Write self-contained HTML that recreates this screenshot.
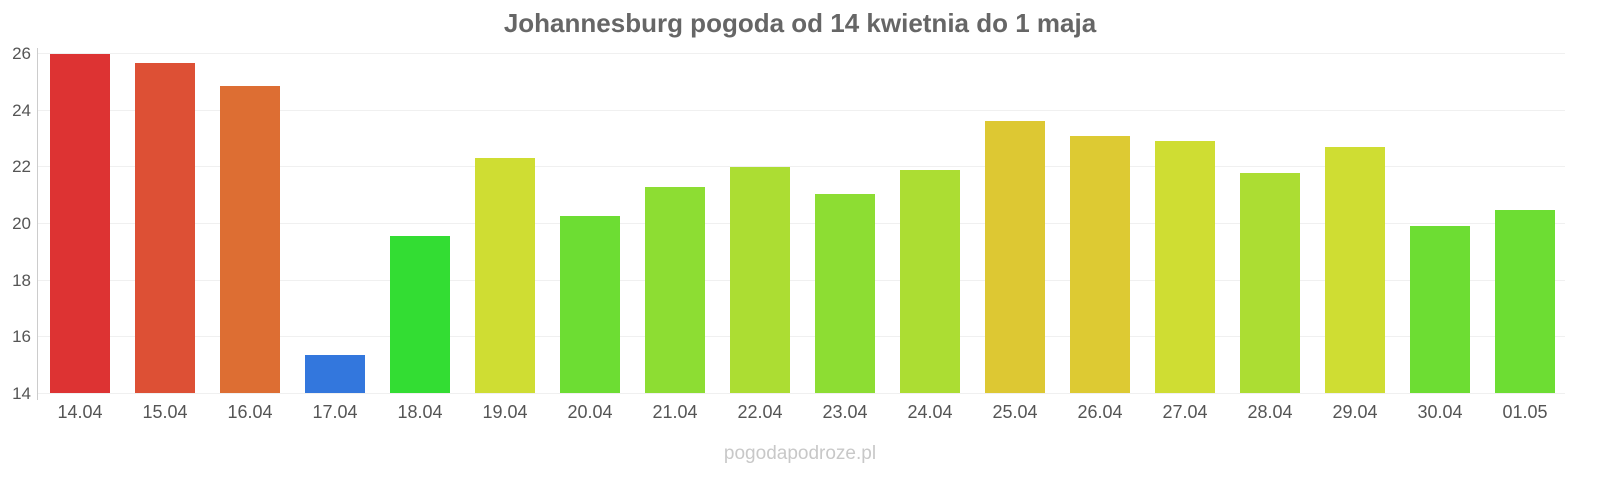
<!DOCTYPE html>
<html><head><meta charset="utf-8"><style>
html,body{margin:0;padding:0;background:#fff;}
body{width:1600px;height:480px;position:relative;overflow:hidden;font-family:"Liberation Sans",sans-serif;}
</style></head><body>
<svg width="1600" height="480" xmlns="http://www.w3.org/2000/svg" font-family="Liberation Sans, sans-serif">
<text x="800" y="32" text-anchor="middle" font-size="26" font-weight="bold" fill="#666">Johannesburg pogoda od 14 kwietnia do 1 maja</text>
<g stroke="#f0f0f0" stroke-width="1">
<line x1="37" x2="1565" y1="53.5" y2="53.5"/><line x1="37" x2="1565" y1="110.5" y2="110.5"/>
<line x1="37" x2="1565" y1="166.5" y2="166.5"/><line x1="37" x2="1565" y1="223.5" y2="223.5"/>
<line x1="37" x2="1565" y1="280.5" y2="280.5"/><line x1="37" x2="1565" y1="336.5" y2="336.5"/>
<line x1="37" x2="1565" y1="393.5" y2="393.5"/>
</g>
<line x1="37.5" x2="37.5" y1="48" y2="400" stroke="#ccc"/>
<g font-size="17" fill="#555" text-anchor="end">
<text x="31" y="59">26</text><text x="31" y="116">24</text><text x="31" y="172">22</text>
<text x="31" y="229">20</text><text x="31" y="286">18</text><text x="31" y="342">16</text><text x="31" y="399">14</text>
</g>
<g>
<rect x="50" y="54" width="60" height="339" fill="#dd3333"/>
<rect x="135" y="63" width="60" height="330" fill="#dd5035"/>
<rect x="220" y="86" width="60" height="307" fill="#dd6e33"/>
<rect x="305" y="355" width="60" height="38" fill="#3377dd"/>
<rect x="390" y="236" width="60" height="157" fill="#33dd33"/>
<rect x="475" y="158" width="60" height="235" fill="#cfdd33"/>
<rect x="560" y="216" width="60" height="177" fill="#6ddd33"/>
<rect x="645" y="187" width="60" height="206" fill="#8ddd33"/>
<rect x="730" y="167" width="60" height="226" fill="#acdd33"/>
<rect x="815" y="194" width="60" height="199" fill="#8ddd33"/>
<rect x="900" y="170" width="60" height="223" fill="#acdd33"/>
<rect x="985" y="121" width="60" height="272" fill="#ddc833"/>
<rect x="1070" y="136" width="60" height="257" fill="#ddca33"/>
<rect x="1155" y="141" width="60" height="252" fill="#cfdd33"/>
<rect x="1240" y="173" width="60" height="220" fill="#acdd33"/>
<rect x="1325" y="147" width="60" height="246" fill="#cfdd33"/>
<rect x="1410" y="226" width="60" height="167" fill="#6ddd33"/>
<rect x="1495" y="210" width="60" height="183" fill="#6ddd33"/>
</g>
<g font-size="18" fill="#555" text-anchor="middle">
<text x="80" y="418">14.04</text><text x="165" y="418">15.04</text><text x="250" y="418">16.04</text>
<text x="335" y="418">17.04</text><text x="420" y="418">18.04</text><text x="505" y="418">19.04</text>
<text x="590" y="418">20.04</text><text x="675" y="418">21.04</text><text x="760" y="418">22.04</text>
<text x="845" y="418">23.04</text><text x="930" y="418">24.04</text><text x="1015" y="418">25.04</text>
<text x="1100" y="418">26.04</text><text x="1185" y="418">27.04</text><text x="1270" y="418">28.04</text>
<text x="1355" y="418">29.04</text><text x="1440" y="418">30.04</text><text x="1525" y="418">01.05</text>
</g>
<text x="800" y="459" text-anchor="middle" font-size="19" fill="#c8c8c8">pogodapodroze.pl</text>
</svg>
</body></html>
